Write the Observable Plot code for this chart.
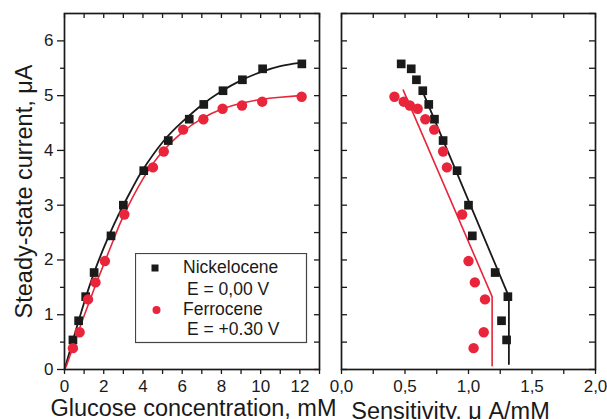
<!DOCTYPE html>
<html><head><meta charset="utf-8">
<script src="https://cdn.jsdelivr.net/npm/d3@7"></script>
<script src="https://cdn.jsdelivr.net/npm/@observablehq/plot@0.6"></script>
<style>
body{margin:0;background:#fff;}
#wrap{position:relative;width:607px;height:419px;overflow:hidden;background:#fff;font-family:"Liberation Sans",Arial,sans-serif;}
#left,#right,#legend{position:absolute;top:0;}
#left{left:0}
#right{left:322px}
#legend{left:135px;top:253px;}
</style></head>
<body><div id="wrap"><div id="left"></div><div id="right"></div><div id="legend"></div></div>
<script>
// ---- data ----
const glucoseNi = [0.43,0.72,1.08,1.51,2.37,3.0,4.04,5.29,6.36,7.1,8.08,9.07,10.1,12.1];
const currentNi = [0.54,0.89,1.33,1.77,2.44,3.0,3.63,4.18,4.57,4.84,5.09,5.29,5.49,5.58];
const sensNi    = [1.30,1.26,1.31,1.21,1.03,1.0,0.91,0.80,0.732,0.687,0.64,0.59,0.549,0.47];

const glucoseFe = [0.43,0.77,1.2,1.58,2.06,3.05,4.51,5.06,6.05,7.08,8.06,9.05,10.08,12.09];
const currentFe = [0.39,0.68,1.28,1.59,1.98,2.83,3.69,3.98,4.38,4.57,4.76,4.82,4.89,4.98];
const sensFe    = [1.04,1.12,1.13,1.05,1.0,0.95,0.83,0.80,0.73,0.66,0.60,0.538,0.49,0.417];

// fitted curves (left panel)
const fitConcNi = [0,0.5,1,1.5,2,2.5,3,3.5,4,5,6,7,8,9,10,11,12];
const fitNi     = [0,0.62,1.22,1.76,2.22,2.63,3.0,3.34,3.65,4.15,4.52,4.83,5.08,5.28,5.43,5.54,5.6];
const fitConcFe = [0.08,0.5,1,1.5,2,2.5,3,4,5,6,7,8,9,10,11,12];
const fitFe     = [0.05,0.48,0.98,1.46,1.92,2.37,2.8,3.48,3.98,4.33,4.58,4.75,4.86,4.93,4.97,5.0];

// linear fits (right panel)
const lineSensNi = [0.64,1.318,1.318];
const lineCurNi  = [5.07,1.33,0.1];
const lineSensFe = [0.486,1.186,1.186];
const lineCurFe  = [5.10,1.33,0.07];

// ticks / labels
const yMajor = [0,1,2,3,4,5,6];
const yHalf = [0,0.5,1,1.5,2,2.5,3,3.5,4,4.5,5,5.5,6,6.5];
const yMinor = [0.5,1.5,2.5,3.5,4.5,5.5];
const xLeftTicks = [0,1,2,3,4,5,6,7,8,9,10,11,12,13];
const xLeftLabels = [0,2,4,6,8,10,12];
const xRightTicks = [0,0.25,0.5,0.75,1,1.25,1.5,1.75,2];
const xRightMajor = [0,0.5,1,1.5,2];
const xRightLabels = ["0,0","0,5","1,0","1,5","2,0"];

const legendNames = ["Nickelocene","E = 0,00 V","Ferrocene","E = +0.30 V"];

const black = "#1a1a1a", red = "#e8253a";
const font = '"Liberation Sans", Arial, sans-serif';

const zip = (xs, ys) => xs.map((x,i)=>({x, y: ys[i]}));

// ---- left panel ----
const L = {w:322, h:419, ml:64, mr:3, mt:13, mb:50};
const LfW = L.w - L.ml - L.mr, LfH = L.h - L.mt - L.mb;
const left = Plot.plot({
  width:L.w, height:L.h, marginLeft:L.ml, marginRight:L.mr, marginTop:L.mt, marginBottom:L.mb,
  style:{fontFamily:font, fontSize:"17px", color:black, background:"transparent", overflow:"visible"},
  x:{domain:[0,13], axis:null}, y:{domain:[0,6.5], axis:null},
  marks:[
    Plot.axisY(yMajor, {anchor:"left", tickSize:7, tickPadding:4, tickFormat:d=>String(d), label:null, strokeWidth:1.3, fill:black}),
    Plot.axisY(yMinor, {anchor:"left", tickSize:4, tickFormat:()=>"", label:null, strokeWidth:1.3}),
    Plot.tickY(yHalf, {y:d=>d, insetLeft:LfW-5, stroke:black, strokeWidth:1.3}),
    Plot.axisX(xLeftTicks, {anchor:"bottom", tickSize:5, tickPadding:5, tickFormat:d=>xLeftLabels.includes(d)?String(d):"", label:null, strokeWidth:1.3, fill:black}),
    Plot.tickX(xLeftTicks, {x:d=>d, insetBottom:LfH-5, stroke:black, strokeWidth:1.3}),
    Plot.frame({stroke:black, strokeWidth:1.7}),
    Plot.line(zip(fitConcNi, fitNi), {x:"x", y:"y", curve:"natural", stroke:black, strokeWidth:1.8}),
    Plot.line(zip(fitConcFe, fitFe), {x:"x", y:"y", curve:"natural", stroke:red, strokeWidth:1.6}),
    Plot.dot(zip(glucoseNi, currentNi), {x:"x", y:"y", symbol:"square", r:4.9, fill:black}),
    Plot.dot(zip(glucoseFe, currentFe), {x:"x", y:"y", symbol:"circle", r:5.2, fill:red}),
    Plot.text(["Glucose concentration, mM"], {text:d=>d, frameAnchor:"bottom", lineAnchor:"middle", textAnchor:"middle", dx:1.5, dy:39, fontSize:23.5, fill:black}),
    Plot.text(["Steady-state current, μA"], {text:d=>d, frameAnchor:"left", lineAnchor:"middle", textAnchor:"middle", rotate:-90, dx:-40, fontSize:23.5, fill:black})
  ]
});
document.getElementById("left").append(left);

// ---- right panel ----
const R = {w:285, h:419, ml:19, mr:12, mt:13, mb:50};
const RfW = R.w - R.ml - R.mr, RfH = R.h - R.mt - R.mb;
const right = Plot.plot({
  width:R.w, height:R.h, marginLeft:R.ml, marginRight:R.mr, marginTop:R.mt, marginBottom:R.mb,
  style:{fontFamily:font, fontSize:"17px", color:black, background:"transparent", overflow:"visible"},
  x:{domain:[0,2], axis:null}, y:{domain:[0,6.5], axis:null},
  marks:[
    Plot.tickY(yHalf, {y:d=>d, insetRight:RfW-6, stroke:black, strokeWidth:1.3}),
    Plot.tickY(yHalf, {y:d=>d, insetLeft:RfW-6, stroke:black, strokeWidth:1.3}),
    Plot.axisX(xRightTicks, {anchor:"bottom", tickSize:5, tickPadding:5, tickFormat:d=>{const i=xRightMajor.indexOf(d); return i>=0?xRightLabels[i]:"";}, label:null, strokeWidth:1.3, fill:black}),
    Plot.tickX(xRightTicks, {x:d=>d, insetBottom:RfH-5, stroke:black, strokeWidth:1.3}),
    Plot.frame({stroke:black, strokeWidth:1.7}),
    Plot.line(zip(lineSensNi, lineCurNi), {x:"x", y:"y", stroke:black, strokeWidth:1.8}),
    Plot.line(zip(lineSensFe, lineCurFe), {x:"x", y:"y", stroke:red, strokeWidth:1.6}),
    Plot.dot(zip(sensNi, currentNi), {x:"x", y:"y", symbol:"square", r:4.9, fill:black}),
    Plot.dot(zip(sensFe, currentFe), {x:"x", y:"y", symbol:"circle", r:5.2, fill:red}),
    Plot.text(["Sensitivity, μ A/mM"], {text:d=>d, frameAnchor:"bottom", lineAnchor:"middle", textAnchor:"middle", dx:-18, dy:42, fontSize:23.5, fill:black})
  ]
});
document.getElementById("right").append(right);

// ---- legend (inside left panel) ----
const lg = d3.select("#legend").append("svg").attr("width",173).attr("height",92)
  .style("font-family", font).style("font-size","17.5px");
lg.append("rect").attr("x",0.5).attr("y",0.5).attr("width",171).attr("height",89)
  .attr("fill","#fff").attr("stroke","#444").attr("stroke-width",1.2);
lg.append("rect").attr("x",16.5).attr("y",11.5).attr("width",7).attr("height",7).attr("fill",black);
lg.append("circle").attr("cx",21.5).attr("cy",57).attr("r",4).attr("fill",red);
const pos = [[48,20],[52,42],[48,62],[52,82]];
legendNames.forEach((t,i)=>lg.append("text").attr("x",pos[i][0]).attr("y",pos[i][1]).attr("fill",black).text(t));
</script>
</body></html>
